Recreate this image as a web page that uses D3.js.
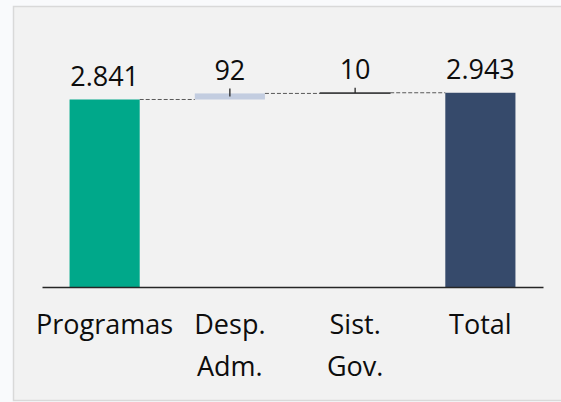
<!DOCTYPE html>
<html>
<head>
<meta charset="utf-8">
<script src="https://cdn.jsdelivr.net/npm/d3@7"></script>
<style>
  body { margin: 0; background: #f9fafc; }
  svg { display: block; }
  text { font-family: "Open Sans", sans-serif; }
</style>
</head>
<body>
<div id="chart"></div>
<script>
// data
const categories = ["Programas", "Desp. Adm.", "Sist. Gov.", "Total"];
const categoryLines = [["Programas"], ["Desp.", "Adm."], ["Sist.", "Gov."], ["Total"]];
const values = [2841, 92, 10, 2943];
const isTotal = [false, false, false, true];
const valueLabels = ["2.841", "92", "10", "2.943"];
const barColors = ["#00a88a", "#c3cde0", "#c3cde0", "#364a6b"];

const width = 561, height = 402;
const margin = { top: 89, right: 18, bottom: 115, left: 42 };

const svg = d3.select("#chart").append("svg")
  .attr("width", width)
  .attr("height", height);

// panel background
svg.append("rect")
  .attr("x", 13.5).attr("y", 6.5)
  .attr("width", 560).attr("height", 394)
  .attr("fill", "#f2f2f2")
  .attr("stroke", "#d9d9d9")
  .attr("stroke-width", 1.5);

// waterfall start / end for each bar
let running = 0;
const steps = values.map((v, i) => {
  let start, end;
  if (isTotal[i]) { start = 0; end = v; running = v; }
  else { start = running; end = running + v; running = end; }
  return { cat: categories[i], start, end, i };
});

const x = d3.scaleBand()
  .domain(categories)
  .range([margin.left, width - margin.right])
  .paddingInner(0.44)
  .paddingOuter(0.22);

const y = d3.scaleLinear()
  .domain([0, 3000])
  .range([height - margin.bottom, margin.top]);

// bars
svg.append("g")
  .selectAll("rect")
  .data(steps)
  .join("rect")
  .attr("x", d => x(d.cat))
  .attr("y", d => y(Math.max(d.start, d.end)))
  .attr("width", x.bandwidth())
  .attr("height", d => Math.abs(y(d.start) - y(d.end)))
  .attr("fill", d => barColors[d.i])
  .attr("stroke", d => Math.abs(y(d.start) - y(d.end)) < 2 ? "#1f1f1f" : "none")
  .attr("stroke-width", 0.8);

// dashed connectors
svg.append("g")
  .selectAll("line")
  .data(steps.slice(0, -1))
  .join("line")
  .attr("x1", d => x(d.cat) + x.bandwidth())
  .attr("x2", d => x(categories[d.i + 1]))
  .attr("y1", d => y(d.end))
  .attr("y2", d => y(d.end))
  .attr("stroke", "#595959")
  .attr("stroke-width", 1)
  .attr("stroke-dasharray", "4,2");

// small leader ticks on the step bars
svg.append("g")
  .selectAll("line")
  .data(steps.filter(d => !isTotal[d.i] && d.i > 0))
  .join("line")
  .attr("x1", d => x(d.cat) + x.bandwidth() / 2)
  .attr("x2", d => x(d.cat) + x.bandwidth() / 2)
  .attr("y1", d => y(Math.max(d.start, d.end)) - 5)
  .attr("y2", d => y((d.start + d.end) / 2))
  .attr("stroke", "#262626")
  .attr("stroke-width", 1.3);

// value labels
svg.append("g")
  .selectAll("text")
  .data(steps)
  .join("text")
  .attr("x", d => x(d.cat) + x.bandwidth() / 2)
  .attr("y", d => y(Math.max(d.start, d.end)) - 13.5)
  .attr("text-anchor", "middle")
  .attr("font-size", 27)
  .attr("fill", "#0d0d0d")
  .text(d => valueLabels[d.i]);

// x axis
const xAxis = svg.append("g")
  .attr("transform", `translate(0,${height - margin.bottom})`)
  .call(d3.axisBottom(x).tickSize(0).tickSizeOuter(0));

xAxis.select(".domain")
  .attr("stroke", "#262626")
  .attr("stroke-width", 1.5);

xAxis.selectAll(".tick text")
  .attr("dy", null)
  .attr("y", null)
  .attr("font-size", 27)
  .attr("font-family", "'Open Sans', sans-serif")
  .attr("fill", "#0d0d0d")
  .text(null)
  .each(function (d) {
    const lines = categoryLines[categories.indexOf(d)];
    const t = d3.select(this);
    lines.forEach((ln, k) => {
      t.append("tspan").attr("x", 0).attr("y", 47 + k * 42).text(ln);
    });
  });
</script>
</body>
</html>
